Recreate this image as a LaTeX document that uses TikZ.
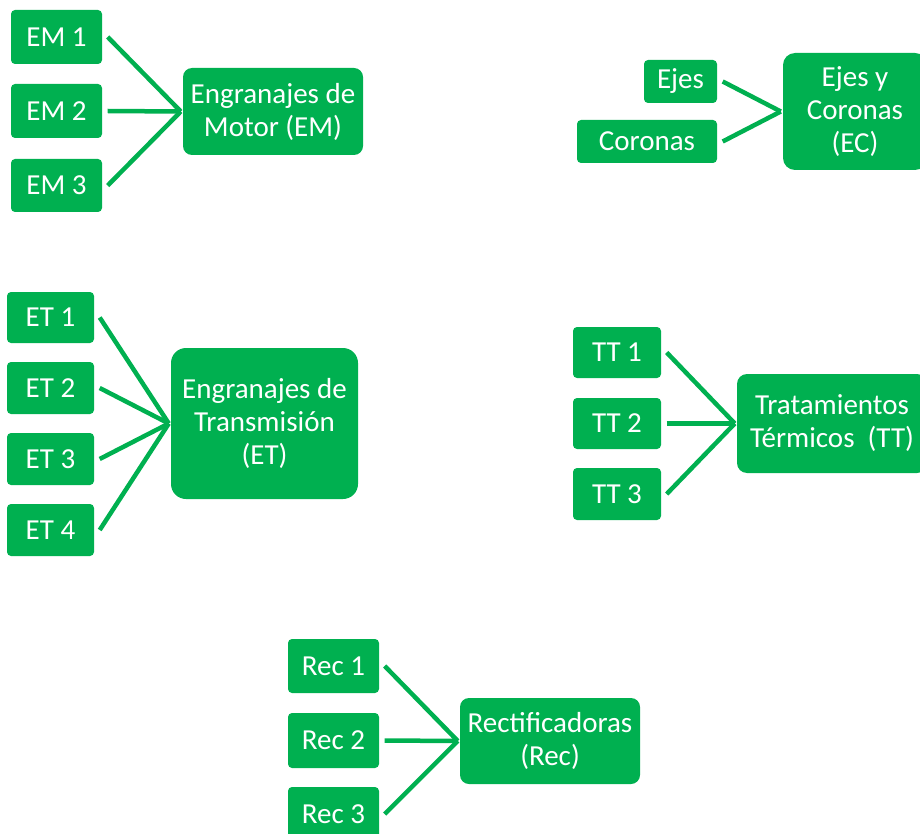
\documentclass[tikz,border=0pt]{standalone}
\usepackage{fontspec}
\setmainfont{Carlito}
\definecolor{leafgreen}{HTML}{00B050}
\begin{document}
\begin{tikzpicture}[x=1pt,y=-1pt,
  box/.style={fill=leafgreen, text=white, inner sep=0pt, align=center,
              font=\fontsize{29}{33}\selectfont},
  sz/.style 2 args={minimum width=#1, minimum height=#2},
  leaf/.style={box, rounded corners=4pt},
  hub/.style={box, rounded corners=#1},
  link/.style={draw=leafgreen, line width=4.5pt}]
\useasboundingbox (0,0) rectangle (920,834);
\clip (0,0) rectangle (920,834);

% Engranajes de Motor
\node[leaf, sz={91}{54}] (em1) at (56.5,37) {EM 1};
\node[leaf, sz={91}{54}] (em2) at (56.5,111) {EM 2};
\node[leaf, sz={91}{53}] (em3) at (56.5,185.5) {EM 3};
\node[hub=9pt, sz={180}{87}] (emc) at (273,111.5) {Engranajes de\\Motor (EM)};
\foreach \n in {em1,em2,em3}
  \draw[link] ([xshift=5.5pt]\n.east) -- ([xshift=-2pt]emc.west);

% Ejes y Coronas
\node[leaf, sz={73}{43}] (ejes) at (680.5,81.5) {Ejes};
\node[leaf, sz={140}{43}] (coronas) at (647,141.5) {Coronas};
\node[hub=12pt, sz={144}{117}] (ecc) at (855,111.5) {Ejes y\\Coronas\\(EC)};
\foreach \n in {ejes,coronas}
  \draw[link] ([xshift=5.5pt]\n.east) -- ([xshift=-2pt]ecc.west);

% Engranajes de Transmision
\node[leaf, sz={87}{51}] (et1) at (50.5,317.5) {ET 1};
\node[leaf, sz={87}{52}] (et2) at (50.5,388) {ET 2};
\node[leaf, sz={87}{52}] (et3) at (50.5,459) {ET 3};
\node[leaf, sz={87}{52}] (et4) at (50.5,530) {ET 4};
\node[hub=15pt, sz={187}{151}] (etc) at (264.5,423.5) {Engranajes de\\Transmisión\\(ET)};
\foreach \n in {et1,et2,et3,et4}
  \draw[link] ([xshift=5.5pt]\n.east) -- ([xshift=-2pt]etc.west);

% Tratamientos Termicos
\node[leaf, sz={88}{51}] (tt1) at (617,352.5) {TT 1};
\node[leaf, sz={88}{51}] (tt2) at (617,423.5) {TT 2};
\node[leaf, sz={88}{52}] (tt3) at (617,494) {TT 3};
\node[hub=10pt, sz={190}{99}] (ttc) at (832,423.5) {Tratamientos\\Térmicos~~(TT)};
\foreach \n in {tt1,tt2,tt3}
  \draw[link] ([xshift=5.5pt]\n.east) -- ([xshift=-2pt]ttc.west);

% Rectificadoras
\node[leaf, sz={91}{54}] (rec1) at (333.5,666) {Rec 1};
\node[leaf, sz={91}{55}] (rec2) at (333.5,740.5) {Rec 2};
\node[leaf, sz={91}{54}] (rec3) at (333.5,814) {Rec 3};
\node[hub=9pt, sz={180}{86}] (recc) at (550,741) {Rectificadoras\\(Rec)};
\foreach \n in {rec1,rec2,rec3}
  \draw[link] ([xshift=5.5pt]\n.east) -- ([xshift=-2pt]recc.west);
\end{tikzpicture}
\end{document}
